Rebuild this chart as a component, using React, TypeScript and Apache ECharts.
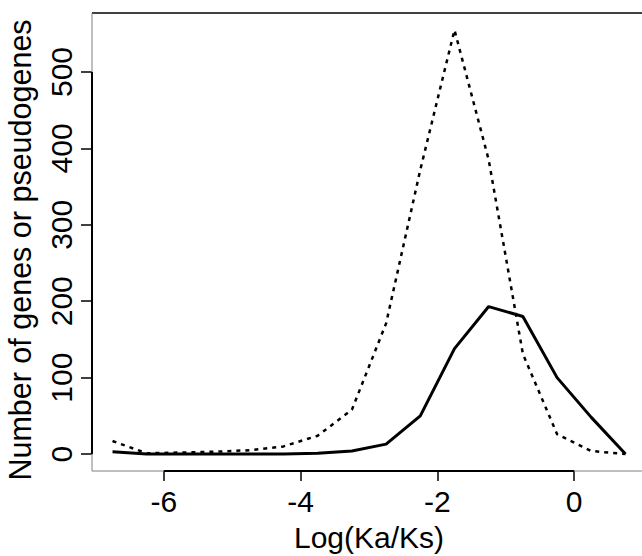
import React, { useEffect, useRef } from "react";
import * as echarts from "echarts";

const xValues = [-6.75, -6.25, -5.75, -5.25, -4.75, -4.25, -3.75, -3.25, -2.75, -2.25, -1.75, -1.25, -0.75, -0.25, 0.25, 0.75];
const genes = [3, 0, 0, 0, 0, 0, 1, 4, 13, 50, 138, 193, 180, 100, 48, 0];
const pseudogenes = [17, 1, 2, 3, 5, 10, 24, 58, 171, 372, 555, 385, 131, 26, 4, 0];
const xTicks = [-6, -4, -2, 0];
const yTicks = [0, 100, 200, 300, 400, 500];

const X_MIN = -7.05;
const X_MAX = 1.05;
const Y_MIN = -22.2;
const Y_MAX = 577.2;

const FONT = "'Liberation Sans', Arial, Helvetica, sans-serif";

export default function App() {
  const ref = useRef<HTMLDivElement>(null);
  useEffect(() => {
    if (!ref.current) return;
    const chart = echarts.init(ref.current, null, { renderer: "svg" });
    const seg = (pts: number[][], color: string, width: number) => ({
      type: "line",
      data: pts,
      symbol: "none",
      silent: true,
      clip: false,
      lineStyle: { color, width, type: "solid" },
      z: 1,
    });
    chart.setOption({
      animation: false,
      backgroundColor: "#ffffff",
      textStyle: { fontFamily: FONT },
      grid: {
        left: 92,
        top: 13,
        width: 554,
        height: 458,
        show: false,
        containLabel: false,
        outerBoundsMode: "none",
      },
      xAxis: {
        type: "value",
        min: X_MIN,
        max: X_MAX,
        axisLine: { show: false, onZero: false },
        splitLine: { show: false },
        axisTick: { show: true, customValues: xTicks, length: 10, lineStyle: { color: "#000", width: 1.5 } },
        axisLabel: { customValues: xTicks, color: "#000", fontSize: 30, fontFamily: FONT, margin: 15 },
        name: "Log(Ka/Ks)",
        nameLocation: "middle",
        nameGap: 51,
        nameTextStyle: { color: "#000", fontSize: 30, fontFamily: FONT },
      },
      yAxis: {
        type: "value",
        min: Y_MIN,
        max: Y_MAX,
        axisLine: { show: false, onZero: false },
        splitLine: { show: false },
        axisTick: { show: true, customValues: yTicks, length: 11, lineStyle: { color: "#000", width: 1.5 } },
        axisLabel: { customValues: yTicks, color: "#000", fontSize: 30, fontFamily: FONT, rotate: 90, margin: 16 },
        name: "Number of genes or pseudogenes",
        nameLocation: "middle",
        nameGap: 57,
        nameTextStyle: { color: "#000", fontSize: 30.5, fontFamily: FONT, padding: [0, 16, 0, 0] },
      },
      series: [
        seg([[X_MIN, Y_MAX], [X_MAX, Y_MAX]], "#000", 1.5),
        seg([[X_MIN, Y_MIN], [X_MIN, Y_MAX]], "#808080", 1),
        seg([[X_MIN, Y_MIN], [X_MAX, Y_MIN]], "#808080", 1),
        seg([[xTicks[0], Y_MIN], [xTicks[xTicks.length - 1], Y_MIN]], "#000", 2),
        seg([[X_MIN, yTicks[0]], [X_MIN, yTicks[yTicks.length - 1]]], "#000", 2),
        {
          name: "pseudogenes",
          type: "line",
          data: xValues.map((x, i) => [x, pseudogenes[i]]),
          symbol: "none",
          clip: false,
          lineStyle: { color: "#000", width: 2.5, type: [4, 5], cap: "butt" },
          z: 3,
        },
        {
          name: "genes",
          type: "line",
          data: xValues.map((x, i) => [x, genes[i]]),
          symbol: "none",
          clip: false,
          lineStyle: { color: "#000", width: 3, type: "solid" },
          z: 4,
        },
      ],
    });
    return () => chart.dispose();
  }, []);
  return (
    <div
      ref={ref}
      style={{ position: "absolute", left: 0, top: 0, width: 642, height: 556, overflow: "hidden" }}
    />
  );
}
